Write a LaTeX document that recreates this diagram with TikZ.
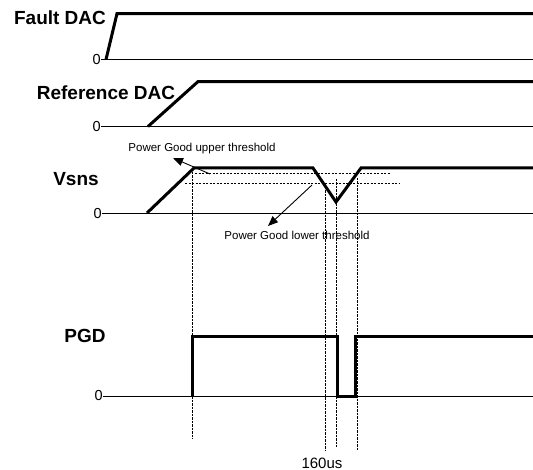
\documentclass[tikz,border=0pt]{standalone}
\usepackage{fontspec}
\setmainfont{Liberation Sans}
\usetikzlibrary{arrows.meta}
\begin{document}
\begin{tikzpicture}[x=1pt,y=-1pt,
  sig/.style={line width=3pt,line join=miter},
  base/.style={line width=1pt},
  vdash/.style={line width=1pt,dash pattern=on 2.5pt off 1pt},
  thr/.style={line width=1pt,dash pattern=on 2pt off 1.5pt},
  lab/.style={font=\fontsize{19}{21}\selectfont\bfseries,inner sep=0pt},
  zero/.style={font=\fontsize{14.5}{16}\selectfont,inner sep=0pt,anchor=east},
  small/.style={font=\fontsize{11.5}{13}\selectfont,inner sep=0pt},
  arr/.style={line width=0.9pt,-{Triangle[length=10pt,width=8pt]}}]
\useasboundingbox (0,0) rectangle (533,470);
% labels
\node[lab] (lf) at (60,18) {Fault DAC};
\node[lab] (lr) at (106,93) {Reference DAC};
\node[lab] (lv) at (76,179) {Vsns};
\node[lab] (lp) at (85,336) {PGD};
\node[zero] (z1) at (101,59.5) {0};
\node[zero] (z2) at (101,126.5) {0};
\node[zero] (z3) at (102,214) {0};
\node[zero] (z4) at (103,396) {0};
% baselines
\draw[base] (z1.east) -- (533,59.5);
\draw[base] (z2.east) -- (533,126.5);
\draw[base] (z3.east) -- (533,214);
\draw[base] (z4.east) -- (533,396);
% threshold lines
\draw[thr] (195,174) -- (390,174);
\draw[thr] (185,184) -- (399,184);
% vertical dashed lines
\draw[vdash] (192,172) -- (192,439);
\draw[vdash] (325,187) -- (325,450);
\draw[vdash] (336,179) -- (336,447);
\draw[vdash] (357,178) -- (357,450);
% signals
\draw[sig] (106,59.5) -- (117,13.6) -- (533,13.6);
\draw[sig] (148,126.5) -- (198,81.6) -- (533,81.6);
\draw[sig] (147,213) -- (194,168) -- (313,168) -- (336,202) -- (361,168) -- (533,168);
\draw[sig] (192,396) -- (192,337) -- (337,337) -- (337,396) -- (355.5,396) -- (355.5,337) -- (533,337);
% threshold labels and arrows
\node[small] (tu) at (202,149) {Power Good upper threshold};
\node[small] (tl) at (297,235) {Power Good lower threshold};
\coordinate (au) at (210,174);
\coordinate (al) at (312,185);
\draw[arr] (au) -- (173,158);
\draw[arr] (al) -- (268,226);
\node[font=\fontsize{15}{17}\selectfont,inner sep=0pt] (t160) at (322,463) {160us};
\end{tikzpicture}
\end{document}
